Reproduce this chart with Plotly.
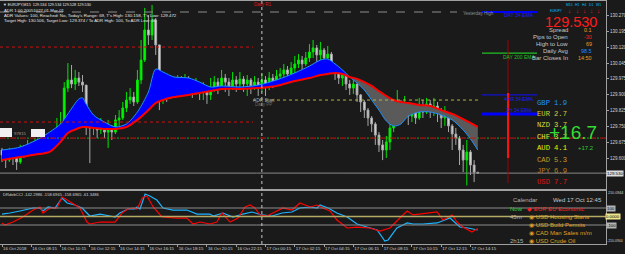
import plotly.graph_objects as go

# ---------------- data ----------------
first_open = 129.638
close = [
129.615,129.591,129.629,129.601,129.582,129.638,129.629,129.657,129.638,129.666,
129.657,129.685,129.671,129.699,129.685,129.741,129.755,129.928,129.966,129.947,
129.975,129.956,129.942,129.769,129.741,129.760,129.732,129.751,129.722,129.741,
129.722,129.779,129.788,129.835,129.872,129.886,129.863,129.966,130.059,130.200,
130.176,130.247,130.130,129.872,129.896,129.882,129.910,129.928,129.956,129.938,
129.966,129.947,129.919,129.938,129.910,129.928,129.896,129.928,129.956,129.938,
129.975,129.956,129.938,129.966,129.947,129.970,129.947,129.966,129.938,129.956,
129.928,129.966,129.938,129.975,129.956,129.984,129.994,130.013,129.994,130.022,
130.041,130.059,130.041,130.069,130.097,130.116,130.083,130.106,130.069,130.087,
130.031,130.003,129.975,129.989,129.947,129.928,129.947,129.896,129.863,129.825,
129.788,129.760,129.708,129.662,129.638,129.676,129.741,129.788,129.854,129.816,
129.835,129.797,129.825,129.788,129.835,129.816,129.854,129.825,129.844,129.816,
129.788,129.807,129.751,129.713,129.694,129.638,129.591,129.629,129.568,129.534,
129.530]
high = [
129.648,129.629,129.648,129.638,129.638,129.662,129.662,129.685,129.676,129.694,
129.685,129.708,129.713,129.722,129.732,129.788,129.816,129.956,130.045,130.036,
130.013,130.003,129.989,129.942,129.779,129.788,129.779,129.788,129.760,129.779,
129.755,129.802,129.825,129.863,129.910,129.928,129.910,130.013,130.153,130.303,
130.270,130.317,130.256,130.130,129.928,129.919,129.947,129.966,129.989,129.984,
129.994,129.984,129.966,129.975,129.947,129.956,129.938,129.975,129.984,129.975,
130.013,129.994,129.975,130.003,129.984,130.003,129.984,129.989,129.975,129.984,
129.975,129.994,129.984,130.003,129.994,130.013,130.022,130.041,130.031,130.050,
130.078,130.087,130.078,130.097,130.134,130.153,130.130,130.144,130.116,130.125,
130.097,130.041,130.013,130.013,129.994,129.966,129.966,129.947,129.900,129.872,
129.835,129.797,129.769,129.722,129.685,129.704,129.760,129.816,129.919,129.872,
129.891,129.854,129.854,129.844,129.882,129.872,129.882,129.872,129.882,129.863,
129.835,129.844,129.816,129.760,129.741,129.704,129.662,129.685,129.638,129.591,
129.534]
low = [
129.582,129.554,129.582,129.568,129.545,129.573,129.601,129.615,129.610,129.629,
129.638,129.648,129.648,129.662,129.638,129.676,129.722,129.741,129.910,129.928,
129.919,129.938,129.910,129.708,129.577,129.708,129.694,129.713,129.694,129.648,
129.685,129.713,129.751,129.779,129.816,129.854,129.844,129.854,129.947,130.050,
130.130,130.153,130.083,129.825,129.854,129.863,129.877,129.891,129.910,129.910,
129.919,129.900,129.882,129.896,129.872,129.872,129.854,129.872,129.910,129.900,
129.919,129.910,129.891,129.919,129.910,129.928,129.910,129.891,129.900,129.919,
129.891,129.910,129.891,129.919,129.928,129.938,129.956,129.966,129.966,129.975,
129.994,130.022,130.013,130.031,130.050,130.069,130.050,130.059,130.031,130.050,
130.003,129.966,129.947,129.938,129.919,129.896,129.900,129.863,129.816,129.788,
129.751,129.722,129.662,129.629,129.591,129.601,129.638,129.722,129.769,129.788,
129.797,129.755,129.769,129.760,129.779,129.788,129.807,129.788,129.797,129.769,
129.741,129.751,129.722,129.638,129.662,129.568,129.535,129.472,129.521,129.488,
129.528]
open_ = [first_open] + close[:-1]
bars = list(range(len(close)))

ema_idx = [0,5,10,13,16,18,21,22,23,25,28,31,34,37,40,42,44,47,51,54,57,60,65,70,75,80,84,87,89,91,
           93,95,97,99,101,103,105,107,109,111,114,117,120,123,126,128,130]
ema_fast = [129.638,129.652,129.690,129.722,129.760,129.807,129.877,129.882,129.853,129.802,
            129.769,129.746,129.760,129.816,129.910,130.017,130.003,129.980,129.975,129.956,
            129.933,129.938,129.933,129.942,129.966,129.999,130.031,130.059,130.064,130.041,
            130.013,129.980,129.952,129.919,129.872,129.825,129.774,129.750,129.760,129.797,
            129.816,129.816,129.802,129.779,129.732,129.690,129.638]
ema_slow = [129.591,129.605,129.619,129.629,129.676,129.718,129.741,129.746,129.746,129.741,
            129.737,129.737,129.746,129.779,129.825,129.858,129.872,129.886,129.896,129.905,
            129.914,129.924,129.924,129.928,129.938,129.961,129.975,129.989,129.994,129.999,
            129.994,129.980,129.971,129.956,129.938,129.914,129.891,129.872,129.863,129.858,
            129.849,129.844,129.825,129.807,129.783,129.765,129.746]

cci_a_x = [0,2.2,4.9,8.5,10.4,11.2,12.6,14.5,16.4,17.8,19.9,21.9,24,26.8,29.5,30.9,32.2,34.4,36.3,36.9,
           37.7,39.1,40.4,42.3,44,46.7,50.5,53.3,56.8,57.7,60.4,63.1,65.8,68.3,71,73.8,76.5,79.2,81.4,84.2,
           86.1,86.9,89.1,91.5,94.3,97,99.7,102.5,104.6,105.5,107.9,110.7,112.3,115,118.9,122.4,125.1,127.3,130]
cci_a = [29,41,65,100,100,65,112,100,218,159,135,100,6,29,6,-6,41,88,88,112,
         88,265,241,194,100,76,76,29,29,6,41,-6,29,53,18,6,41,53,100,112,
         100,135,100,41,-6,-88,-124,-159,-288,-276,-135,-76,-88,-88,-76,-18,-124,-135,-158.7]
cci_b_x = [0,0.8,3,5.7,8.5,10.4,11.2,13.1,15,16.4,17.8,21.3,23.2,24,26.8,30.9,32.8,34.4,35.8,36.9,
           38.3,39.6,41.3,43.7,47.8,50.5,52.2,54.1,56.8,58.7,60.1,62.3,64.5,66.4,67.8,69.1,70.5,72.4,75.1,76.8,
           79.2,81.4,84.2,86.1,87.7,89.6,91.5,94.3,97,100.5,103.3,106,108.7,110.7,112.3,114.2,116.9,118.9,120.5,123,
           124.3,125.9,128.4,130]
cci_b = [-76,-100,-65,-6,76,112,41,100,100,229,194,100,-65,-88,-65,-65,41,88,100,88,
         218,241,112,-6,-18,-18,-88,-65,-88,-65,41,-65,-18,112,135,100,18,6,65,100,
         76,159,112,135,100,65,-41,-135,-124,-135,-171,-135,-18,65,18,29,41,53,-41,18,
         -65,-124,-182,-142.3]

time_tick_bars = [0,8,16,24,32,40,48,56,64,72,80,88,96,104,112,120,128]
time_tick_labels = ["16 Oct 2018","16 Oct 08:15","16 Oct 10:15","16 Oct 12:15","16 Oct 14:15",
                    "16 Oct 16:15","16 Oct 18:15","16 Oct 20:15","16 Oct 22:15","17 Oct 00:15",
                    "17 Oct 02:15","17 Oct 04:15","17 Oct 06:15","17 Oct 08:15","17 Oct 10:15",
                    "17 Oct 12:15","17 Oct 14:15"]
price_ticks = [130.270,130.195,130.120,130.045,129.975,129.900,129.825,129.750,129.675,129.600,129.455]
price_tick_labels = ["130.270","130.195","130.120","130.045","129.975","129.900","129.825",
                     "129.750","129.675","129.600","129.455"]
bid = 129.530
day_start_bar = 71
yesterday_high = 130.284
daily_r1_level = 130.120
daily_s1_level = 129.769
pivot_level = 129.694
adr_start_level = 129.872
ema_label_names = ["DAY 34 EMA","DAY 200 EMA","4HR 34 EMA","1H 34 EMA"]
ema_label_levels = [130.284,130.092,129.896,129.807]
currencies = ["GBP","EUR","NZD","CHF","AUD","CAD","JPY","USD"]
strength = [1.9,2.7,3.7,3.7,4.1,5.3,6.9,7.7]

# ---------------- geometry helpers ----------------
W, H = 625, 254
ML, MR, MT, MB = 0, 19, 1, 10
PW, PH = W - ML - MR, H - MT - MB
def fx(px): return (px - ML) / PW
def fy(py): return (H - MB - py) / PH
BAR_PX, BAR0_PX = 3.66, 2.0
def bar_at(px): return (px - BAR0_PX) / BAR_PX
P_REF, P_REF_PX, P_PER_PX = 130.270, 15.0, 0.00468
def price_at(py): return P_REF - (py - P_REF_PX) * P_PER_PX
def cci_at(py): return (216.5 - py) / 8.5 * 100

BG = "#1a1a1a"
BORDER = "#a0a0a0"
FONT = "Liberation Sans"
MAIN_BOTTOM, SUB_TOP = 189.0, 191.0
xr = [bar_at(0), bar_at(PW)]

fig = go.Figure()

# EMA ribbon fills
k = next(j for j in range(1, len(ema_idx)) if ema_fast[j] <= ema_slow[j])
for sl, col in ((slice(0, k + 1), "#0000ff"), (slice(k, None), "#5a5a5a")):
    fig.add_trace(go.Scatter(x=ema_idx[sl], y=ema_slow[sl], mode="lines",
                             line=dict(width=0, shape="spline", smoothing=0.8),
                             hoverinfo="skip", showlegend=False))
    fig.add_trace(go.Scatter(x=ema_idx[sl], y=ema_fast[sl], mode="lines",
                             line=dict(width=0, shape="spline", smoothing=0.8),
                             fill="tonexty", fillcolor=col, hoverinfo="skip", showlegend=False))

fig.add_trace(go.Candlestick(
    x=bars, open=open_, high=high, low=low, close=close,
    increasing=dict(line=dict(color="#00e600", width=1), fillcolor="#00ff00"),
    decreasing=dict(line=dict(color="#a8a8a8", width=1), fillcolor="#dcdcdc"),
    whiskerwidth=0, showlegend=False))

fig.add_trace(go.Scatter(x=ema_idx, y=ema_fast, mode="lines",
                         line=dict(color="#1e90ff", width=1, shape="spline", smoothing=0.8),
                         showlegend=False))
fig.add_trace(go.Scatter(x=ema_idx, y=ema_slow, mode="lines",
                         line=dict(color="#ff0000", width=2, shape="spline", smoothing=0.8),
                         showlegend=False))

# CCI sub-window
fig.add_trace(go.Scatter(x=cci_a_x, y=cci_a, mode="lines", xaxis="x2", yaxis="y2",
                         line=dict(color="#1eb4ff", width=1.2), showlegend=False))
fig.add_trace(go.Scatter(x=cci_b_x, y=cci_b, mode="lines", xaxis="x2", yaxis="y2",
                         line=dict(color="#ff0000", width=1.2), showlegend=False))

shapes = []
def hline(level, x0, x1, color, dash, width=1, yref="y"):
    shapes.append(dict(type="line", xref="x", yref=yref, x0=x0, x1=x1, y0=level, y1=level,
                       line=dict(color=color, width=width, dash=dash)))

hline(yesterday_high, xr[0], bar_at(457), "#8c8c8c", "dash")
hline(daily_r1_level, xr[0], bar_at(253), "#d01010", "dot")
hline(daily_s1_level, xr[0], bar_at(253), "#d01010", "dot")
hline(pivot_level, xr[0], xr[1], "#c81414", "6px,4px")
hline(pivot_level, xr[0], xr[1], "#10b010", "0px,7px,2px,1px")
hline(adr_start_level, bar_at(253), bar_at(478), "#b4b43c", "dot")
hline(bid, xr[0], xr[1], "#8a8a8a", "solid")
# CCI levels
hline(100, xr[0], xr[1], "#8c8c8c", "solid", yref="y2")
hline(0, xr[0], xr[1], "#b4aa64", "solid", width=1.5, yref="y2")
hline(-100, xr[0], xr[1], "#8c8c8c", "solid", yref="y2")
# day separator
shapes.append(dict(type="line", xref="x", yref="paper", x0=day_start_bar, x1=day_start_bar,
                   y0=0, y1=1, line=dict(color="#c8c8c8", width=1, dash="dot")))
# EMA label lines
ema_cols = ["#0000ff", "#22c022", "#1010ff", "#0000ff"]
ema_w = [2, 1.2, 1, 3]
for lv, c, w in zip(ema_label_levels, ema_cols, ema_w):
    shapes.append(dict(type="line", xref="paper", yref="y", x0=fx(482), x1=fx(537), y0=lv, y1=lv,
                       line=dict(color=c, width=w)))
# red vertical marker
shapes.append(dict(type="line", xref="paper", yref="paper", x0=fx(508), x1=fx(508),
                   y0=fy(183), y1=fy(40), line=dict(color="#a00000", width=1)))
shapes.append(dict(type="line", xref="paper", yref="paper", x0=fx(508), x1=fx(508),
                   y0=fy(158), y1=fy(93), line=dict(color="#ff1010", width=2)))
# white label boxes at left
shapes.append(dict(type="rect", xref="paper", yref="paper", x0=fx(0), x1=fx(12), y0=fy(137), y1=fy(128),
                   fillcolor="#f0f0f0", line=dict(width=0)))
shapes.append(dict(type="rect", xref="paper", yref="paper", x0=fx(31), x1=fx(45), y0=fy(137), y1=fy(129),
                   fillcolor="#f0f0f0", line=dict(width=0)))

ann = []
def txt(x, y, s, size, color, anchor="left", family=FONT, bg=None):
    d = dict(xref="paper", yref="paper", x=fx(x), y=fy(y), text=s, showarrow=False,
             xanchor=anchor, yanchor="middle", font=dict(size=size, color=color, family=family),
             borderpad=0)
    if bg:
        d["bgcolor"] = bg
    ann.append(d)

# header
txt(2, 5, "▼ EURJPY,M15  129.534 129.534 129.528 129.530", 3.8, "#e6e6e6")
txt(3, 10.5, "ADR 1.00 20051027 01-Mar-01", 4.3, "#e6e6e6")
txt(3, 15.5, "ADR Values: 100, Reached: No, Today's Range: 69, T's High: 130.158, T's Low: 129.472", 4.4, "#e6e6e6")
txt(3, 21, "Target High: 130.506, Target Low: 129.374 / To ADR High: 100, To ADR Low: 46", 4.3, "#e6e6e6")
txt(13, 133, "97815", 4.3, "#9a9a9a")
txt(253, 4, "Daily R1", 4.5, "#e01818")
txt(252, 100, "ADR Start", 4.8, "#a0a0a0")
txt(254, 104.5, "Daily PP", 4.5, "#6a6a6a")
txt(462, 13, "Yesterday High", 4.5, "#909090")

# EMA labels
txt(503, 15, ema_label_names[0], 5, "#1a1aff")
txt(502, 57, ema_label_names[1], 5, "#22c022")
txt(503, 99, ema_label_names[2], 5, "#1a1aff")
txt(505, 110, ema_label_names[3], 5, "#1a1aff")

# right info panel
txt(556, 11.5, "EURJPY", 3.0, "#00bfff", "center")
for xc, tf in zip([569.5, 577, 584, 591, 598], ["M15", "H1", "H4", "D1", "W1"]):
    txt(xc, 5.5, tf, 3.4, "#00bfff", "center")
    txt(xc, 11.5, "↓", 6, "#ff1a1a", "center")
txt(571, 21.5, "129.530", 14.5, "#ff1a1a", "center")
labels = ["Spread", "Pips to Open", "High to Low", "Daily Avg", "Bar Closes In"]
values = ["0.1", "-30", "69", "98.5", "14:50"]
vcols = ["#f0a020", "#ff2020", "#f0a020", "#1e90ff", "#f0a020"]
for j, (lb, v, vc) in enumerate(zip(labels, values, vcols)):
    yy = 30 + j * 7.1
    txt(569, yy, lb, 6.0, "#c8c8c8", "right")
    txt(593, yy, v, 5.4, vc, "right")

cur_cols = ["#1e90ff", "#d2d23c", "#dcdc3c", "#e6e63c", "#f0f000", "#c89b28", "#b4821e", "#e01414"]
for j, (cn, sv, cc) in enumerate(zip(currencies, strength, cur_cols)):
    yy = 102.5 + j * 11.4
    txt(536, yy, cn, 7.2, cc, "left", "Liberation Mono")
    txt(553, yy, f"{sv:.1f}", 7.2, cc, "left", "Liberation Mono")
txt(573, 132, "+16.7", 19, "#32dc32", "center")
txt(586, 147.5, "+17.2", 6, "#32cd32", "center")

# CCI texts
txt(2, 194, "DRdebCCI -142.2986 -158.6965 -158.6965 -61.3486", 4.1, "#d2d2d2")
txt(512, 200, "Calendar", 6, "#b4b4b4")
txt(552, 200, "Wed 17 Oct 12:45", 6, "#c8c8c8")
txt(509, 209, "Now", 6, "#32cd32")
txt(526, 209, "◆ EUR EU Economic", 6, "#ff2020")
txt(509, 217, "45m", 6, "#b4b4b4")
txt(528, 217, "◉ USD Housing Starts", 6, "#e0a020")
txt(528, 225, "◉ USD Build Permits", 6, "#e0a020")
txt(528, 233, "◉ CAD Man Sales m/m", 6, "#e0a020")
txt(509, 241, "2h15", 6, "#b4b4b4")
txt(528, 241, "◉ USD Crude Oil", 6, "#e0a020")

# right-axis boxes and labels
txt(606, 173, "129.530", 4.4, "#000000", "left", FONT, "#dcdcdc")
txt(607, 192.5, "210.0944", 3.7, "#d2d2d2")
txt(606, 208, "100", 4.3, "#000000", "left", FONT, "#b4b4b4")
txt(605, 216.5, "0.0000", 4.3, "#000000", "left", FONT, "#f0e68c")
txt(606, 225, "-100", 4.3, "#000000", "left", FONT, "#b4b4b4")
txt(606, 240.5, "-210.0944", 3.5, "#d2d2d2")

axis_common = dict(showgrid=False, zeroline=False, showline=True, mirror=True,
                   linecolor=BORDER, linewidth=1, automargin=False)
fig.update_layout(
    width=W, height=H,
    margin=dict(l=ML, r=MR, t=MT, b=MB, autoexpand=False),
    paper_bgcolor=BG, plot_bgcolor=BG,
    showlegend=False,
    xaxis=dict(domain=[0, 1], anchor="y", range=xr, showticklabels=False, ticks="",
               rangeslider=dict(visible=False), **axis_common),
    xaxis2=dict(domain=[0, 1], anchor="y2", range=xr, tickmode="array",
                tickvals=time_tick_bars, ticktext=time_tick_labels, ticks="outside", ticklen=2,
                tickangle=0, tickcolor=BORDER, ticklabelposition="outside right",
                tickfont=dict(size=4.3, color="#d2d2d2", family=FONT), **axis_common),
    yaxis=dict(domain=[fy(MAIN_BOTTOM), 1], anchor="x", side="right",
               range=[price_at(MAIN_BOTTOM), price_at(MT)], tickmode="array",
               tickvals=price_ticks, ticktext=price_tick_labels, ticks="outside", ticklen=2,
               tickcolor=BORDER, tickfont=dict(size=4.5, color="#d2d2d2", family=FONT),
               **axis_common),
    yaxis2=dict(domain=[0, fy(SUB_TOP)], anchor="x2", side="right",
                range=[cci_at(H - MB), cci_at(SUB_TOP)], showticklabels=False, ticks="",
                **axis_common),
    shapes=shapes, annotations=ann,
    font=dict(family=FONT),
)

fig.write_html("out.html")
